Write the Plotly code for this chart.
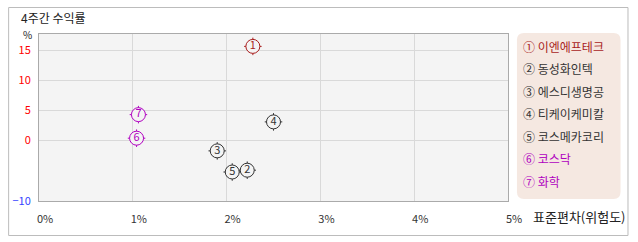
import plotly.graph_objects as go

# ---- data ----
names = ["이엔에프테크", "동성화인텍", "에스디생명공", "티케이케미칼", "코스메카코리", "코스닥", "화학"]
circled = ["①", "②", "③", "④", "⑤", "⑥", "⑦"]
numbers = ["1", "2", "3", "4", "5", "6", "7"]
std_dev = [2.28, 2.22, 1.90, 2.50, 2.06, 1.04, 1.06]   # x, %
returns = [15.6, -4.9, -1.7, 3.1, -5.2, 0.4, 4.3]       # y, %
colors = ["#a81c1c", "#333333", "#333333", "#333333", "#333333", "#b000c0", "#b000c0"]

x_ticks = [0, 1, 2, 3, 4, 5]
x_labels = ["0%", "1%", "2%", "3%", "4%", "5%"]
y_ticks = [15, 10, 5, 0, -10]
y_labels = ["15", "10", "5", "0", "−10"]
y_label_colors = ["#ff0000", "#ff0000", "#ff0000", "#ff0000", "#3344ff"]

title_text = "4주간 수익률"
x_title = "표준편차(위험도)"
y_unit = "%"

FONT = "Noto Sans CJK KR, Gulim, sans-serif"
W, H = 638, 242
L, R, T, B = 37, 130, 34, 41
pw, ph = W - L - R, H - T - B


def px_x(p):
    return (p - L) / pw


def px_y(p):
    return (H - B - p) / ph


fig = go.Figure()

# tick-mark crosses behind circles
fig.add_trace(go.Scatter(
    x=std_dev, y=returns, mode="markers",
    marker=dict(symbol="cross-thin", size=12.5, line=dict(color=colors, width=1)),
    hoverinfo="skip", showlegend=False))
# circles with numbers
fig.add_trace(go.Scatter(
    x=std_dev, y=returns, mode="markers+text",
    text=numbers, textposition="middle center",
    textfont=dict(family=FONT, size=11, color=colors),
    marker=dict(symbol="circle", size=14, color="#f4f4f4", line=dict(color=colors, width=1)),
    hovertext=names, showlegend=False))

shapes = []
# outer frame
shapes.append(dict(type="rect", xref="paper", yref="paper",
                   x0=px_x(6.5), x1=px_x(628.5), y0=px_y(235.5), y1=px_y(7.5),
                   line=dict(color="#bcbcbc", width=1), fillcolor="rgba(0,0,0,0)", layer="below"))

# legend rounded box
lx0, lx1, ly0, ly1, rad = 517, 621, 33, 199, 7


def P(xp, yp):
    return f"{px_x(xp):.5f},{px_y(yp):.5f}"


path = (f"M {P(lx0 + rad, ly0)} L {P(lx1 - rad, ly0)} Q {P(lx1, ly0)} {P(lx1, ly0 + rad)} "
        f"L {P(lx1, ly1 - rad)} Q {P(lx1, ly1)} {P(lx1 - rad, ly1)} "
        f"L {P(lx0 + rad, ly1)} Q {P(lx0, ly1)} {P(lx0, ly1 - rad)} "
        f"L {P(lx0, ly0 + rad)} Q {P(lx0, ly0)} {P(lx0 + rad, ly0)} Z")
shapes.append(dict(type="path", xref="paper", yref="paper", path=path,
                   fillcolor="#f5e8e1", line=dict(width=0)))

annotations = []
annotations.append(dict(text=title_text, xref="paper", yref="paper", x=px_x(17), y=px_y(18),
                        xanchor="left", yanchor="middle", showarrow=False,
                        font=dict(family=FONT, size=12, color="#222222")))
annotations.append(dict(text=y_unit, xref="paper", yref="paper", x=px_x(25), y=px_y(34),
                        xanchor="center", yanchor="middle", showarrow=False,
                        font=dict(family=FONT, size=10, color="#222222")))
annotations.append(dict(text=x_title, xref="paper", yref="paper", x=px_x(531), y=px_y(216),
                        xanchor="left", yanchor="middle", showarrow=False,
                        font=dict(family=FONT, size=13, color="#222222")))

item_y0, item_dy = 46, 22.5
for i, (c, n, col) in enumerate(zip(circled, names, colors)):
    annotations.append(dict(text=f"{c} {n}", xref="paper", yref="paper",
                            x=px_x(521), y=px_y(item_y0 + i * item_dy),
                            xanchor="left", yanchor="middle", showarrow=False,
                            font=dict(family=FONT, size=12, color=col)))

y_ticktext = [f"<span style='color:{c}'>{t}</span>" for t, c in zip(y_labels, y_label_colors)]

fig.update_layout(
    width=W, height=H,
    margin=dict(l=L, r=R, t=T, b=B, pad=0),
    paper_bgcolor="white", plot_bgcolor="#f4f4f4",
    shapes=shapes, annotations=annotations,
    font=dict(family=FONT, size=11, color="#333333"),
    xaxis=dict(range=[0, 5], tickvals=x_ticks, ticktext=x_labels, showgrid=True,
               gridcolor="#d9d9d9", gridwidth=1, zeroline=False, showline=True,
               linecolor="#aaaaaa", linewidth=1, mirror=True, ticks="",
               ticklabelshift=6, ticklabelstandoff=8,
               tickfont=dict(family=FONT, size=11, color="#333333"), fixedrange=True),
    yaxis=dict(range=[-10, 17.65], tickvals=y_ticks, ticktext=y_ticktext, showgrid=True,
               gridcolor="#d9d9d9", gridwidth=1, zeroline=False, showline=True,
               linecolor="#aaaaaa", linewidth=1, mirror=True, ticks="",
               ticklabelstandoff=5,
               tickfont=dict(family=FONT, size=11, color="#ff0000"), fixedrange=True),
    showlegend=False,
)

fig.write_html("out.html")
